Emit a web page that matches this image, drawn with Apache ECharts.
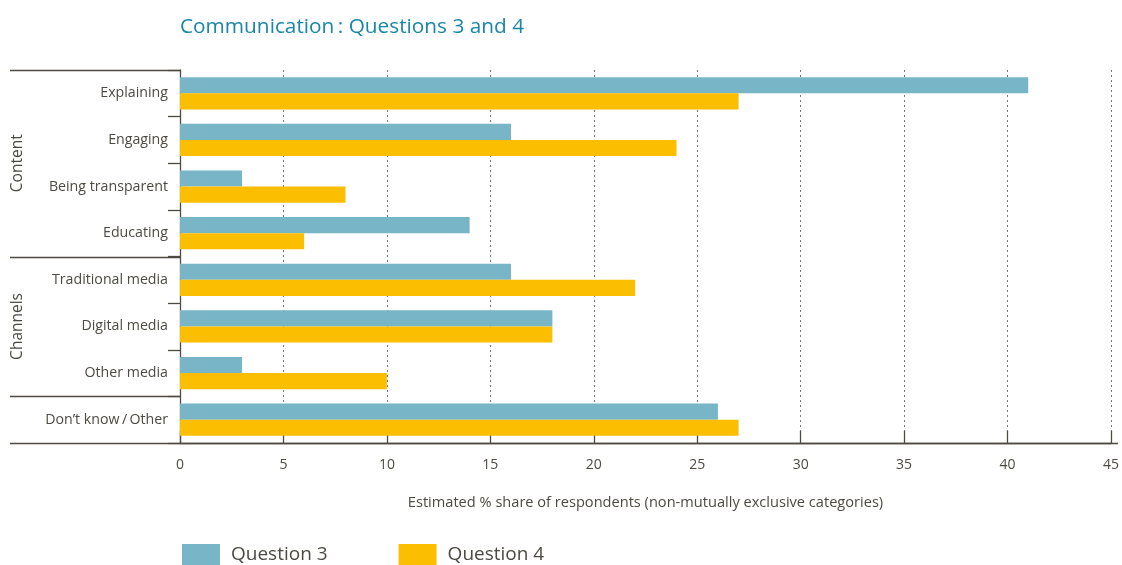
<!DOCTYPE html>
<html><head><meta charset="utf-8">
<script src="https://cdn.jsdelivr.net/npm/echarts@6/dist/echarts.min.js"></script>
<style>html,body{margin:0;padding:0;background:#fff}#c{width:1122px;height:565px}</style>
</head><body><div id="c"></div>
<script>
const categories = ["Explaining","Engaging","Being transparent","Educating","Traditional media","Digital media","Other media","Don\u2019t know\u2009/\u2009Other"];
const question3 = [41,16,3,14,16,18,3,26];
const question4 = [27,24,8,6,22,18,10,27];
const xTicks = [0,5,10,15,20,25,30,35,40,45];
const groups = [{name:"Content", start:0, end:3},{name:"Channels", start:4, end:6},{name:"", start:7, end:7}];

const FONT = "Open Sans";
const TXT = "#4d4a42";
const chart = echarts.init(document.getElementById('c'));
const option = {
  animation:false,
  textStyle:{fontFamily:FONT},
  title:{text:"Communication\u2009: Questions 3 and 4", left:180, top:17, padding:0,
    textStyle:{color:"#1a86a8", fontSize:20.8, fontWeight:"normal", fontFamily:FONT}},
  legend:{left:182, top:544, padding:0, itemWidth:38, itemHeight:22, itemGap:71, icon:"rect",
    textStyle:{fontSize:19, color:TXT, fontFamily:FONT, padding:[2,0,0,6]},
    data:["Question 3","Question 4"]},
  grid:{left:180, right:11, top:70, bottom:122, containLabel:false},
  xAxis:{type:"value", min:0, max:45, interval:5,
    name:"Estimated % share of respondents (non-mutually exclusive categories)",
    nameLocation:"middle", nameGap:52, nameTextStyle:{fontSize:14.6, color:TXT},
    axisLine:{show:true, lineStyle:{color:"#4d4a42", width:1.3}},
    axisTick:{show:true, inside:true, length:12, lineStyle:{color:"#4d4a42", width:1.3}},
    axisLabel:{fontSize:14, color:TXT, margin:15, formatter:v=>xTicks.includes(v)?String(v):""},
    splitLine:{show:true, lineStyle:{type:[2,3], color:"#777", width:1}}},
  yAxis:{type:"category", inverse:true, data:categories,
    axisLine:{show:true, lineStyle:{color:"#4d4a42", width:1.3}},
    axisTick:{show:true, length:12, lineStyle:{color:"#4d4a42", width:1.3}},
    axisLabel:{fontSize:14.2, color:TXT, margin:12}},
  series:[
    {name:"Question 3", type:"bar", data:question3, itemStyle:{color:"#77b5c7"}, barGap:"0%", barCategoryGap:"31%"},
    {name:"Question 4", type:"bar", data:question4, itemStyle:{color:"#fbbe00"}, barGap:"0%", barCategoryGap:"31%"}
  ]
};
chart.setOption(option);

const band = (chart.convertToPixel({yAxisIndex:0}, categories[1]) - chart.convertToPixel({yAxisIndex:0}, categories[0]));
const yTopOf = i => chart.convertToPixel({yAxisIndex:0}, categories[i]) - band/2;
const xLeft = 10;
const x0 = chart.convertToPixel({xAxisIndex:0}, 0);
const xMax = chart.convertToPixel({xAxisIndex:0}, 45);
const yBottom = yTopOf(categories.length-1) + band;
const lineStyle = {stroke:"#4d4a42", lineWidth:1.3};
const graphics = [];
groups.forEach(g=>{
  const y = Math.round(yTopOf(g.start))+0.5;
  graphics.push({type:"line", shape:{x1:xLeft, y1:y, x2:x0, y2:y}, style:lineStyle, silent:true});
  if(g.name){
    const yc = (yTopOf(g.start) + yTopOf(g.end)+band)/2;
    graphics.push({type:"text", x:18, y:yc, rotation:Math.PI/2,
      style:{text:g.name, fill:TXT, font:"15.5px '"+FONT+"'", textAlign:"center", textVerticalAlign:"middle"}});
  }
});
const yb = Math.round(yBottom)+0.5;
graphics.push({type:"line", shape:{x1:xLeft, y1:yb, x2:xMax+7, y2:yb}, style:lineStyle, silent:true});
chart.setOption({graphic:graphics});
</script></body></html>
